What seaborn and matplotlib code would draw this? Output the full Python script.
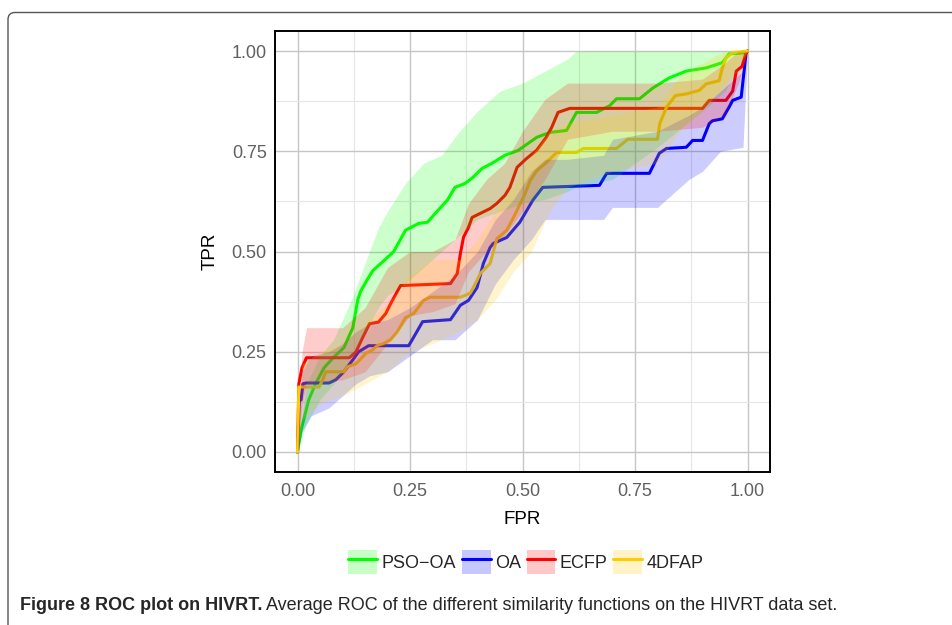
import numpy as np
import pandas as pd
import matplotlib
matplotlib.use("Agg")
import matplotlib.pyplot as plt
import seaborn as sns
from matplotlib.patches import Patch, FancyBboxPatch
from matplotlib.lines import Line2D
from matplotlib.transforms import IdentityTransform

methods = ["PSO\u2212OA", "OA", "ECFP", "4DFAP"]
colors = ["#00FF00", "#0000FF", "#FF0000", "#FFCC00"]

# mean ROC curves
pso_fpr = [0, 0.008, 0.025, 0.04, 0.059, 0.081, 0.103, 0.123, 0.134, 0.14, 0.155, 0.168, 0.19, 0.214,
           0.24, 0.269, 0.289, 0.306, 0.333, 0.35, 0.373, 0.39, 0.41, 0.432, 0.461, 0.49, 0.532, 0.561,
           0.598, 0.62, 0.665, 0.694, 0.709, 0.76, 0.79, 0.826, 0.864, 0.908, 0.944, 0.959, 0.997, 1.0]
pso_tpr = [0, 0.055, 0.13, 0.17, 0.21, 0.237, 0.26, 0.31, 0.38, 0.40, 0.43, 0.453, 0.475, 0.50,
           0.553, 0.57, 0.573, 0.595, 0.628, 0.66, 0.67, 0.685, 0.707, 0.72, 0.74, 0.752, 0.785, 0.797,
           0.802, 0.847, 0.847, 0.864, 0.881, 0.881, 0.908, 0.933, 0.95, 0.958, 0.971, 0.993, 0.996, 1.0]

oa_fpr = [0, 0.004, 0.008, 0.012, 0.019, 0.07, 0.085, 0.103, 0.123, 0.136, 0.158, 0.247, 0.255, 0.278,
          0.34, 0.362, 0.38, 0.399, 0.413, 0.428, 0.435, 0.465, 0.494, 0.523, 0.545, 0.671, 0.687, 0.782,
          0.804, 0.82, 0.864, 0.878, 0.90, 0.915, 0.922, 0.944, 0.959, 0.967, 0.986, 0.997, 1.0]
oa_tpr = [0, 0.13, 0.13, 0.17, 0.172, 0.172, 0.18, 0.2, 0.23, 0.25, 0.265, 0.265, 0.28, 0.325,
          0.33, 0.366, 0.378, 0.41, 0.47, 0.51, 0.52, 0.535, 0.573, 0.628, 0.66, 0.665, 0.695, 0.695,
          0.745, 0.757, 0.76, 0.777, 0.777, 0.819, 0.826, 0.831, 0.86, 0.877, 0.885, 0.997, 1.0]

ecfp_fpr = [0, 0.003, 0.01, 0.02, 0.115, 0.13, 0.145, 0.16, 0.18, 0.196, 0.207, 0.229, 0.34, 0.355,
            0.362, 0.369, 0.38, 0.388, 0.406, 0.428, 0.443, 0.461, 0.472, 0.488, 0.509, 0.531, 0.553,
            0.565, 0.579, 0.605, 0.90, 0.915, 0.952, 0.967, 0.975, 0.988, 0.997, 1.0]
ecfp_tpr = [0, 0.17, 0.21, 0.235, 0.235, 0.25, 0.286, 0.32, 0.324, 0.345, 0.37, 0.415, 0.42, 0.445,
            0.495, 0.536, 0.56, 0.585, 0.595, 0.607, 0.62, 0.64, 0.66, 0.71, 0.732, 0.752, 0.785,
            0.81, 0.847, 0.857, 0.857, 0.877, 0.877, 0.9, 0.95, 0.962, 0.997, 1.0]

dfap_fpr = [0, 0.003, 0.048, 0.056, 0.063, 0.103, 0.11, 0.13, 0.152, 0.166, 0.178, 0.19, 0.207, 0.222,
            0.24, 0.258, 0.28, 0.295, 0.362, 0.384, 0.399, 0.406, 0.428, 0.443, 0.465, 0.48, 0.506,
            0.517, 0.532, 0.553, 0.576, 0.62, 0.635, 0.709, 0.734, 0.80, 0.805, 0.82, 0.84, 0.864,
            0.893, 0.908, 0.937, 0.944, 0.952, 0.967, 1.0]
dfap_tpr = [0, 0.162, 0.162, 0.18, 0.2, 0.2, 0.212, 0.22, 0.246, 0.254, 0.266, 0.27, 0.28, 0.3,
            0.335, 0.345, 0.378, 0.386, 0.386, 0.396, 0.428, 0.445, 0.47, 0.532, 0.553, 0.585, 0.645,
            0.677, 0.702, 0.722, 0.747, 0.747, 0.757, 0.757, 0.78, 0.78, 0.819, 0.86, 0.889, 0.893,
            0.902, 0.918, 0.926, 0.958, 0.983, 0.996, 1.0]

# confidence bands (approximate)
pso_band_fpr = [0, 0.02, 0.05, 0.08, 0.1, 0.12, 0.15, 0.18, 0.2, 0.24, 0.28, 0.32, 0.36, 0.4, 0.45,
                0.5, 0.55, 0.6, 0.62, 0.7, 0.8, 0.9, 0.95, 1.0]
pso_lo = [0, 0.07, 0.13, 0.17, 0.2, 0.24, 0.3, 0.36, 0.39, 0.42, 0.46, 0.5, 0.54, 0.58, 0.6,
          0.62, 0.63, 0.65, 0.66, 0.68, 0.76, 0.85, 0.9, 1.0]
pso_hi = [0, 0.17, 0.24, 0.28, 0.33, 0.38, 0.47, 0.56, 0.6, 0.67, 0.72, 0.74, 0.8, 0.85, 0.9,
          0.92, 0.95, 0.98, 1.0, 1.0, 1.0, 1.0, 1.0, 1.0]

oa_band_fpr = [0, 0.01, 0.03, 0.07, 0.1, 0.13, 0.16, 0.2, 0.25, 0.3, 0.35, 0.4, 0.44, 0.48, 0.52,
               0.55, 0.6, 0.68, 0.7, 0.8, 0.87, 0.9, 0.94, 0.99, 1.0]
oa_lo = [0, 0.05, 0.09, 0.11, 0.14, 0.17, 0.19, 0.2, 0.24, 0.28, 0.28, 0.33, 0.42, 0.48, 0.53,
         0.58, 0.58, 0.58, 0.61, 0.61, 0.68, 0.7, 0.75, 0.76, 1.0]
oa_hi = [0, 0.2, 0.24, 0.25, 0.27, 0.3, 0.32, 0.33, 0.36, 0.4, 0.44, 0.5, 0.58, 0.63, 0.7,
         0.73, 0.73, 0.74, 0.78, 0.8, 0.84, 0.86, 0.9, 0.95, 1.0]

ecfp_band_fpr = [0, 0.01, 0.02, 0.1, 0.15, 0.2, 0.25, 0.3, 0.35, 0.38, 0.42, 0.46, 0.5, 0.55, 0.6,
                 0.7, 0.8, 0.9, 0.95, 0.98, 1.0]
ecfp_lo = [0, 0.12, 0.17, 0.18, 0.2, 0.27, 0.34, 0.35, 0.37, 0.45, 0.5, 0.54, 0.6, 0.68, 0.78,
           0.8, 0.8, 0.81, 0.84, 0.92, 1.0]
ecfp_hi = [0, 0.25, 0.31, 0.31, 0.36, 0.46, 0.5, 0.5, 0.53, 0.62, 0.68, 0.72, 0.8, 0.88, 0.92,
           0.92, 0.92, 0.93, 0.97, 1.0, 1.0]

dfap_band_fpr = [0, 0.01, 0.05, 0.1, 0.15, 0.2, 0.25, 0.3, 0.36, 0.4, 0.44, 0.48, 0.52, 0.56, 0.6,
                 0.7, 0.8, 0.85, 0.9, 0.95, 1.0]
dfap_lo = [0, 0.08, 0.12, 0.14, 0.17, 0.2, 0.25, 0.27, 0.3, 0.33, 0.38, 0.45, 0.5, 0.6, 0.66,
           0.7, 0.72, 0.8, 0.85, 0.92, 1.0]
dfap_hi = [0, 0.22, 0.25, 0.27, 0.32, 0.37, 0.44, 0.48, 0.48, 0.53, 0.6, 0.66, 0.74, 0.8, 0.82,
           0.84, 0.86, 0.94, 0.97, 1.0, 1.0]

ticks = [0.0, 0.25, 0.5, 0.75, 1.0]
tick_labels = ["0.00", "0.25", "0.50", "0.75", "1.00"]

caption_bold = "Figure 8 ROC plot on HIVRT."
caption_rest = " Average ROC of the different similarity functions on the HIVRT data set."

lines = pd.concat([
    pd.DataFrame({"fpr": pso_fpr, "tpr": pso_tpr, "method": methods[0]}),
    pd.DataFrame({"fpr": oa_fpr, "tpr": oa_tpr, "method": methods[1]}),
    pd.DataFrame({"fpr": ecfp_fpr, "tpr": ecfp_tpr, "method": methods[2]}),
    pd.DataFrame({"fpr": dfap_fpr, "tpr": dfap_tpr, "method": methods[3]}),
], ignore_index=True)
bands = [(pso_band_fpr, pso_lo, pso_hi), (oa_band_fpr, oa_lo, oa_hi),
         (ecfp_band_fpr, ecfp_lo, ecfp_hi), (dfap_band_fpr, dfap_lo, dfap_hi)]

sns.set_style("white")
plt.rcParams["font.family"] = ["Liberation Sans", "DejaVu Sans"]

fig = plt.figure(figsize=(9.52, 6.25), dpi=100)
ax = fig.add_axes([275 / 952, 1 - 472 / 625, 495 / 952, 441 / 625])

pal = dict(zip(methods, colors))
sns.lineplot(data=lines, x="fpr", y="tpr", hue="method", palette=pal, estimator=None,
             sort=False, linewidth=2.2, legend=False, ax=ax, zorder=3)
# ribbons go over the lines, like the original
for (bx, lo, hi), c in zip(bands, colors):
    ax.fill_between(bx, lo, hi, color=c, alpha=0.2, linewidth=0, zorder=4)

ax.set_xlim(-0.05, 1.05)
ax.set_ylim(-0.05, 1.05)
ax.set_xticks(ticks)
ax.set_xticklabels(tick_labels)
ax.set_yticks(ticks)
ax.set_yticklabels(tick_labels)
ax.set_xticks([0.125, 0.375, 0.625, 0.875], minor=True)
ax.set_yticks([0.125, 0.375, 0.625, 0.875], minor=True)
ax.grid(which="major", color="#C6C6C6", linewidth=1.0, zorder=0)
ax.grid(which="minor", color="#E6E6E6", linewidth=0.8, zorder=0)
ax.set_axisbelow(True)
ax.tick_params(which="major", length=3.5, width=1.1, color="#7F7F7F", pad=2.5,
               labelsize=13, labelcolor="#606060")
ax.tick_params(axis="x", which="major", pad=4.5)
ax.tick_params(which="minor", length=0)
for s in ax.spines.values():
    s.set_color("black")
    s.set_linewidth(1.4)
ax.set_xlabel("FPR", fontsize=13.5, color="black", labelpad=8)
ax.set_ylabel("TPR", fontsize=13.5, color="black", labelpad=9)

handles = []
for c in colors:
    handles.append((Patch(facecolor=c, alpha=0.22, edgecolor="none"),
                    Line2D([0], [0], color=c, linewidth=2.2)))
fig.legend(handles, methods, loc="center", bbox_to_anchor=(526 / 952, 1 - 562 / 625),
           ncol=4, frameon=False, fontsize=13, handlelength=1.6, handleheight=1.6,
           handletextpad=0.25, columnspacing=0.3)

# outer figure frame (rounded top-left corner)
frame = FancyBboxPatch((8, -30), 1100, 625 - 12.5 + 30,
                       boxstyle="round,pad=0,rounding_size=7", transform=IdentityTransform(),
                       facecolor="none", edgecolor="#555555", linewidth=1.0)
fig.patches.append(frame)

cap_family = ["Liberation Sans", "DejaVu Sans"]
t1 = fig.text(20 / 952, 1 - 610 / 625, caption_bold, fontsize=13, fontweight="bold",
              family=cap_family, va="baseline", ha="left")
fig.canvas.draw()
r = fig.canvas.get_renderer()
bb = t1.get_window_extent(r)
t2 = fig.text(bb.x1 / 952, 1 - 610 / 625, caption_rest, fontsize=13, family=cap_family,
              va="baseline", ha="left")

fig.savefig("out.png", dpi=100)
